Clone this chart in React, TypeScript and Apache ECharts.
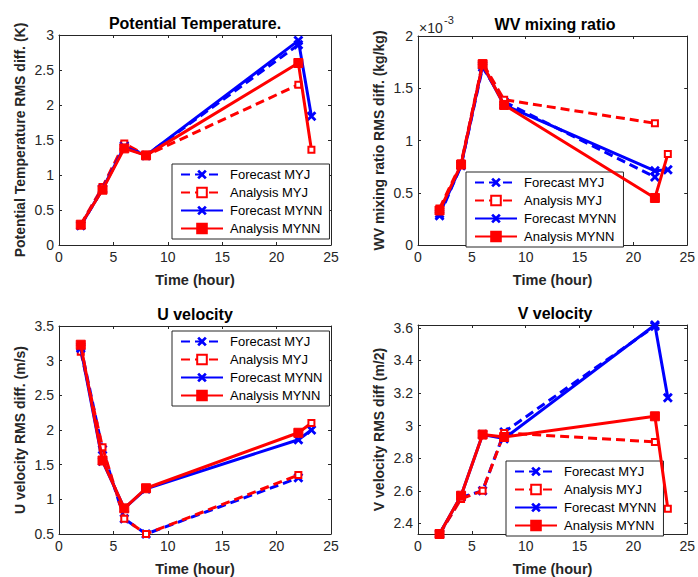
import React, { useEffect, useRef } from "react";
import * as echarts from "echarts";

// ---- data ----
const timesMYJ = [2, 4, 6, 8, 22];
const timesMYNN = [2, 4, 6, 8, 22, 23.2];
const seriesNames = ["Forecast MYJ", "Analysis MYJ", "Forecast MYNN", "Analysis MYNN"];
const xTickValues = [0, 5, 10, 15, 20, 25];

// Potential temperature RMS diff (K)
const ptForecastMYJ = [0.28, 0.8, 1.42, 1.28, 2.86];
const ptAnalysisMYJ = [0.29, 0.83, 1.45, 1.28, 2.29];
const ptForecastMYNN = [0.28, 0.8, 1.4, 1.28, 2.92, 1.84];
const ptAnalysisMYNN = [0.29, 0.79, 1.38, 1.28, 2.6, 1.36];

// WV mixing ratio RMS diff (kg/kg, in units of 1e-3)
const wvForecastMYJ = [0.28, 0.76, 1.7, 1.37, 0.65];
const wvAnalysisMYJ = [0.35, 0.78, 1.74, 1.39, 1.165];
const wvForecastMYNN = [0.3, 0.76, 1.72, 1.34, 0.71, 0.72];
const wvAnalysisMYNN = [0.33, 0.77, 1.73, 1.34, 0.45, 0.87];

// U velocity RMS diff (m/s)
const uForecastMYJ = [3.2, 1.72, 0.72, 0.5, 1.31];
const uAnalysisMYJ = [3.13, 1.75, 0.72, 0.5, 1.35];
const uForecastMYNN = [3.18, 1.55, 0.87, 1.15, 1.86, 2.0];
const uAnalysisMYNN = [3.23, 1.56, 0.87, 1.16, 1.96, 2.1];

// V velocity RMS diff (m/2)
const vForecastMYJ = [2.335, 2.56, 2.6, 2.96, 3.61];
const vAnalysisMYJ = [2.335, 2.55, 2.6, 2.955, 2.9];
const vForecastMYNN = [2.335, 2.57, 2.945, 2.92, 3.617, 3.17];
const vAnalysisMYNN = [2.335, 2.57, 2.945, 2.93, 3.057, 2.49];

const titles = ["Potential Temperature.", "WV mixing ratio", "U velocity", "V velocity"];
const yNames = [
  "Potential Temperature RMS diff. (K)",
  "WV mixing ratio RMS diff. (kg/kg)",
  "U velocity RMS diff. (m/s)",
  "V velocity RMS diff (m/2)",
];
const xName = "Time (hour)";

// ---- layout / styling ----
const FONT = "'Liberation Sans', Arial, Helvetica, sans-serif";
const AX = "#262626";
const BLUE = "#0000ff";
const RED = "#ff0000";
const XSYM = "path://M0,2L2,0L5,3L8,0L10,2L7,5L10,8L8,10L5,7L2,10L0,8L3,5Z";

const panels = [
  {
    data: [ptForecastMYJ, ptAnalysisMYJ, ptForecastMYNN, ptAnalysisMYNN],
    y: { min: 0, max: 3, interval: 0.5 },
    grid: { left: 59, top: 35, width: 272, height: 210 },
    legend: { left: 172, top: 164 },
  },
  {
    data: [wvForecastMYJ, wvAnalysisMYJ, wvForecastMYNN, wvAnalysisMYNN],
    y: { min: 0, max: 2, interval: 0.5 },
    grid: { left: 418, top: 36, width: 274, height: 209 },
    legend: { left: 466, top: 172 },
  },
  {
    data: [uForecastMYJ, uAnalysisMYJ, uForecastMYNN, uAnalysisMYNN],
    y: { min: 0.5, max: 3.5, interval: 0.5 },
    grid: { left: 59, top: 326, width: 272, height: 209 },
    legend: { left: 172, top: 331 },
  },
  {
    data: [vForecastMYJ, vAnalysisMYJ, vForecastMYNN, vAnalysisMYNN],
    y: { min: 2.335, max: 3.617, splitNumber: 6, hideEnds: true },
    grid: { left: 418, top: 325, width: 274, height: 210 },
    legend: { left: 506, top: 461 },
  },
];

function buildOption() {
  const grids: any[] = [];
  const xAxes: any[] = [];
  const yAxes: any[] = [];
  const series: any[] = [];
  const legends: any[] = [];
  const graphics: any[] = [];

  const axisLine = { show: true, onZero: false, lineStyle: { color: AX, width: 1 } };
  const axisTick = { show: true, inside: true, length: 3, lineStyle: { color: AX, width: 1 } };
  const labelStyle = { color: AX, fontSize: 14, fontFamily: FONT };

  panels.forEach((p, i) => {
    grids.push({ ...p.grid, containLabel: false });
    const xBase = {
      gridIndex: i,
      type: "value",
      min: xTickValues[0],
      max: xTickValues[xTickValues.length - 1],
      interval: xTickValues[1] - xTickValues[0],
      axisLine,
      axisTick,
      splitLine: { show: false },
    };
    xAxes.push({
      ...xBase,
      position: "bottom",
      axisLabel: { ...labelStyle, margin: 5 },
      name: xName,
      nameLocation: "middle",
      nameGap: 27,
      nameTextStyle: { fontWeight: "bold", fontSize: 14.5, color: AX, fontFamily: FONT },
    });
    xAxes.push({ ...xBase, position: "top", axisLabel: { show: false } });

    const yScale: any = { min: p.y.min, max: p.y.max };
    if ((p.y as any).interval) yScale.interval = (p.y as any).interval;
    if ((p.y as any).splitNumber) yScale.splitNumber = (p.y as any).splitNumber;
    const yBase = {
      gridIndex: i,
      type: "value",
      ...yScale,
      axisLine,
      axisTick,
      splitLine: { show: false },
    };
    const hideEnds = (p.y as any).hideEnds;
    yAxes.push({
      ...yBase,
      position: "left",
      axisLabel: {
        ...labelStyle,
        margin: 5,
        showMinLabel: !hideEnds,
        showMaxLabel: !hideEnds,
      },
      name: yNames[i],
      nameLocation: "middle",
      nameGap: 32,
      nameTextStyle: { fontWeight: "bold", fontSize: 14, color: AX, fontFamily: FONT },
    });
    yAxes.push({ ...yBase, position: "right", axisLabel: { show: false } });

    const [fMYJ, aMYJ, fMYNN, aMYNN] = p.data;
    const common = {
      type: "line",
      xAxisIndex: 2 * i,
      yAxisIndex: 2 * i,
      showAllSymbol: true,
      animation: false,
      emphasis: { disabled: true },
    };
    series.push({
      ...common,
      name: seriesNames[0],
      data: timesMYJ.map((t, k) => [t, fMYJ[k]]),
      symbol: XSYM,
      symbolSize: 10,
      lineStyle: { color: BLUE, width: 3, type: [9, 5] },
      itemStyle: { color: BLUE },
      z: 2,
    });
    series.push({
      ...common,
      name: seriesNames[1],
      data: timesMYJ.map((t, k) => [t, aMYJ[k]]),
      symbol: "emptyRect",
      symbolSize: 6,
      lineStyle: { color: RED, width: 3, type: [9, 5] },
      itemStyle: { color: RED, borderColor: RED, borderWidth: 2.5 },
      z: 3,
    });
    series.push({
      ...common,
      name: seriesNames[2],
      data: timesMYNN.map((t, k) => [t, fMYNN[k]]),
      symbol: XSYM,
      symbolSize: 10,
      lineStyle: { color: BLUE, width: 3 },
      itemStyle: { color: BLUE },
      z: 4,
    });
    series.push({
      ...common,
      name: seriesNames[3],
      data: timesMYNN.map((t, k) =>
        k === timesMYNN.length - 1
          ? {
              value: [t, aMYNN[k]],
              symbol: "emptyRect",
              symbolSize: 6,
              itemStyle: { color: RED, borderColor: RED, borderWidth: 2.5 },
            }
          : [t, aMYNN[k]]
      ),
      symbol: "rect",
      symbolSize: 9,
      lineStyle: { color: RED, width: 3 },
      itemStyle: { color: RED, borderColor: RED, borderWidth: 1 },
      z: 5,
    });

    legends.push({
      data: seriesNames,
      orient: "vertical",
      left: p.legend.left,
      top: p.legend.top,
      itemWidth: 42,
      itemHeight: 12,
      itemGap: 5,
      padding: [4, 7, 4, 8],
      borderColor: AX,
      borderWidth: 1,
      borderRadius: 0,
      backgroundColor: "#fff",
      selectedMode: false,
      textStyle: { fontSize: 13, color: "#000", fontFamily: FONT, padding: [0, 0, 0, 2] },
    });

    graphics.push({
      type: "text",
      x: p.grid.left + p.grid.width / 2,
      y: p.grid.top - 12,
      style: {
        text: titles[i],
        fontSize: 16,
        fontWeight: "bold",
        fontFamily: FONT,
        fill: "#000",
        textAlign: "center",
        textVerticalAlign: "middle",
      },
    });
  });

  // multiplier label of the WV panel
  graphics.push({
    type: "text",
    x: 419,
    y: 28,
    style: { text: "×10", fontSize: 14, fontFamily: FONT, fill: AX, textVerticalAlign: "middle" },
  });
  graphics.push({
    type: "text",
    x: 444,
    y: 20,
    style: { text: "-3", fontSize: 11, fontFamily: FONT, fill: AX, textVerticalAlign: "middle" },
  });

  return {
    animation: false,
    backgroundColor: "#fff",
    grid: grids,
    xAxis: xAxes,
    yAxis: yAxes,
    series,
    legend: legends,
    graphic: graphics,
  };
}

export default function App() {
  const ref = useRef<HTMLDivElement>(null);
  useEffect(() => {
    if (!ref.current) return;
    const chart = echarts.init(ref.current, undefined, { renderer: "svg" });
    chart.setOption(buildOption() as any);
    return () => chart.dispose();
  }, []);
  return (
    <div
      ref={ref}
      style={{ position: "fixed", left: 0, top: 0, width: 698, height: 577, background: "#fff" }}
    />
  );
}
